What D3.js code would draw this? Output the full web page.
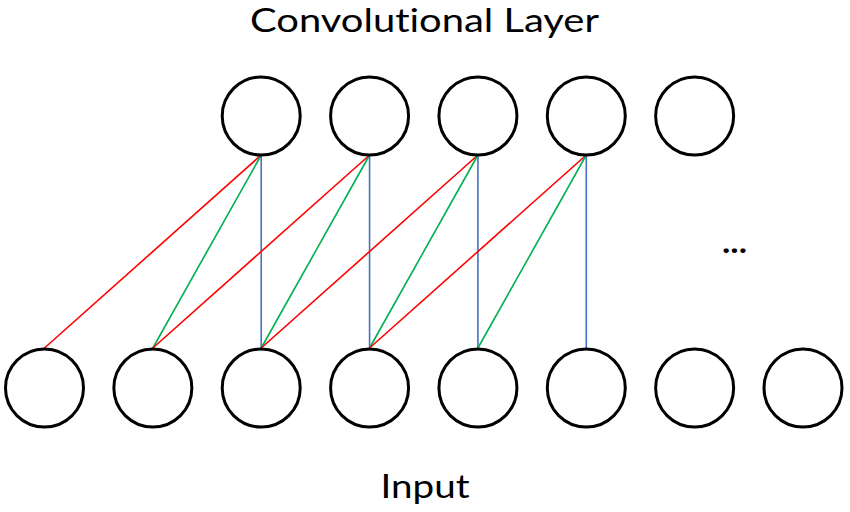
<!DOCTYPE html>
<html>
<head>
<meta charset="utf-8">
<script src="https://cdn.jsdelivr.net/npm/d3@7/dist/d3.min.js"></script>
<style>
html,body{margin:0;padding:0;background:#fff;}
svg{display:block;}
text{font-family:Lato,"Open Sans",sans-serif;fill:#000;font-variant-ligatures:none;font-feature-settings:"liga" 0,"dlig" 0;}
</style>
</head>
<body>
<svg id="chart" width="850" height="512"></svg>
<script>
// ---- data ----
const layers = ["Convolutional Layer", "Input"];
const inputNodes = [0, 1, 2, 3, 4, 5, 6, 7];      // input slot positions
const convNodes = [2, 3, 4, 5, 6];                // conv nodes aligned with input slots
const kernelWeights = ["w0", "w1", "w2"];         // kernel of size 3
const kernelColors = ["#FF0000", "#00B050", "#4472C4"];
// connections: [conv node index, input node index, kernel weight index]
const edges = [
  [0, 0, 0], [0, 1, 1], [0, 2, 2],
  [1, 1, 0], [1, 2, 1], [1, 3, 2],
  [2, 2, 0], [2, 3, 1], [2, 4, 2],
  [3, 3, 0], [3, 4, 1], [3, 5, 2]
];
const ellipsisText = "...";

// ---- drawing ----
const svg = d3.select("#chart");
const r = 39;
const x = d3.scaleLinear().domain([0, 7]).range([44.5, 803]);
const y = d3.scalePoint().domain(layers).range([116, 387]);
const color = d3.scaleOrdinal().domain(kernelWeights).range(kernelColors);

// lines
svg.append("g").selectAll("line").data(edges).join("line")
  .attr("x1", d => x(convNodes[d[0]]))
  .attr("y1", y(layers[0]) + r)
  .attr("x2", d => x(inputNodes[d[1]]))
  .attr("y2", y(layers[1]) - r)
  .attr("stroke", d => color(kernelWeights[d[2]]))
  .attr("stroke-width", 1.6);

// conv circles
svg.append("g").selectAll("circle").data(convNodes).join("circle")
  .attr("cx", d => x(d)).attr("cy", y(layers[0])).attr("r", r)
  .attr("fill", "none").attr("stroke", "#000").attr("stroke-width", 3);

// input circles
svg.append("g").selectAll("circle").data(inputNodes).join("circle")
  .attr("cx", d => x(d)).attr("cy", y(layers[1]) + 1).attr("r", r)
  .attr("fill", "none").attr("stroke", "#000").attr("stroke-width", 3);

// titles
svg.append("text").attr("x", 424.5).attr("y", 31.5)
  .attr("text-anchor", "middle").attr("font-size", 32)
  .attr("textLength", 349).attr("lengthAdjust", "spacingAndGlyphs")
  .text(layers[0]);
svg.append("text").attr("x", 425).attr("y", 498)
  .attr("text-anchor", "middle").attr("font-size", 32)
  .attr("textLength", 89).attr("lengthAdjust", "spacingAndGlyphs")
  .text(layers[1]);

// ellipsis
svg.append("text").attr("x", 734.5).attr("y", 253)
  .attr("text-anchor", "middle").attr("font-size", 30).attr("font-weight", "bold")
  .attr("textLength", 25).attr("lengthAdjust", "spacingAndGlyphs")
  .text(ellipsisText);
</script>
</body>
</html>
